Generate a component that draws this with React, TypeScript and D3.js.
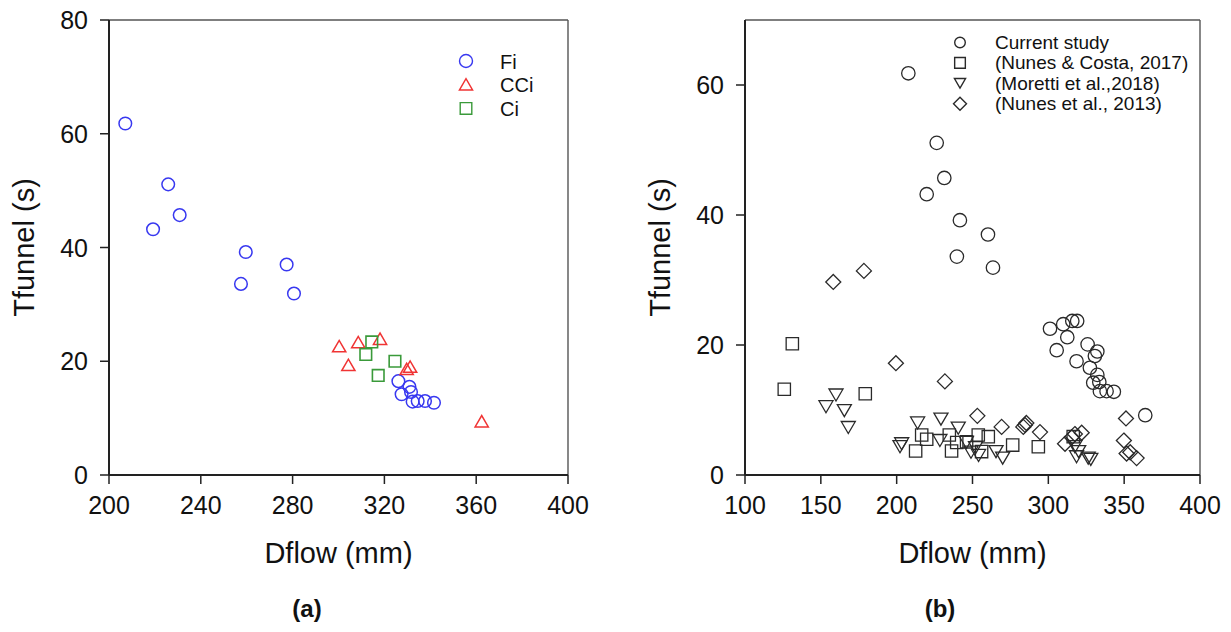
import React from "react";
import * as d3 from "d3";

// ---------- data (a) ----------
const fi: [number, number][] = [
  [207.1, 61.8], [225.8, 51.1], [230.8, 45.7], [219.2, 43.2],
  [259.6, 39.2], [257.5, 33.6], [277.4, 37.0], [280.6, 31.9],
  [326.1, 16.5], [327.5, 14.2], [330.9, 15.5], [331.6, 14.6],
  [332.3, 12.9], [334.5, 13.0], [337.7, 13.0], [341.6, 12.7],
];
const cci: [number, number][] = [
  [300.3, 22.6], [308.6, 23.3], [318.1, 23.9], [304.3, 19.3],
  [329.7, 18.6], [331.2, 19.0], [362.4, 9.4],
];
const ci: [number, number][] = [
  [314.5, 23.4], [311.9, 21.2], [324.6, 20.0], [317.3, 17.5],
];

// ---------- data (b) ----------
const currentStudy: [number, number][] = [
  [207.7, 61.8], [226.4, 51.1], [231.4, 45.7], [219.8, 43.2],
  [241.7, 39.2], [239.7, 33.6], [260.2, 37.0], [263.5, 31.9],
  [301.1, 22.5], [309.8, 23.2], [315.8, 23.7], [319.0, 23.7],
  [312.5, 21.2], [305.5, 19.2], [325.9, 20.1], [332.3, 19.0],
  [330.7, 18.3], [318.6, 17.5], [327.4, 16.5], [332.3, 15.4],
  [329.6, 14.2], [333.6, 14.3], [334.0, 12.9], [338.4, 12.9],
  [343.2, 12.8], [363.9, 9.2],
];
const nunesCosta2017: [number, number][] = [
  [131.2, 20.2], [125.9, 13.2], [179.3, 12.5], [216.5, 6.15],
  [219.8, 5.5], [212.5, 3.7], [234.7, 6.15], [236.2, 3.7],
  [239.6, 5.0], [246.1, 5.1], [253.8, 6.15], [260.4, 5.9],
  [256.0, 3.6], [276.5, 4.6], [293.4, 4.35], [316.4, 5.9],
];
const moretti2018: [number, number][] = [
  [160.0, 12.3], [153.4, 10.5], [165.5, 9.9], [168.1, 7.3],
  [213.8, 8.0], [229.2, 8.6], [240.6, 7.2], [202.2, 4.35],
  [203.3, 4.8], [228.5, 5.3], [246.0, 5.0], [249.0, 3.5],
  [252.0, 4.2], [254.0, 3.0], [265.5, 3.6], [269.9, 2.6],
  [317.5, 4.35], [318.6, 2.8], [320.0, 3.6], [326.3, 2.6], [328.0, 2.4],
];
const nunes2013: [number, number][] = [
  [158.2, 29.7], [178.4, 31.4], [199.5, 17.2], [231.8, 14.4],
  [253.2, 9.1], [269.2, 7.4], [283.5, 7.4], [284.6, 7.7],
  [285.5, 8.0], [294.5, 6.6], [311.0, 4.8], [315.4, 5.8],
  [317.5, 6.3], [322.0, 6.5], [351.2, 8.7], [349.8, 5.3],
  [351.6, 3.3], [354.0, 3.5], [358.2, 2.6],
];

const xTicksA = [200, 240, 280, 320, 360, 400];
const yTicksA = [0, 20, 40, 60, 80];
const xTicksB = [100, 150, 200, 250, 300, 350, 400];
const yTicksB = [0, 20, 40, 60];

const legendA = ["Fi", "CCi", "Ci"];
const legendB = [
  "Current study",
  "(Nunes & Costa, 2017)",
  "(Moretti et al.,2018)",
  "(Nunes et al., 2013)",
];

type Shape = "circle" | "up" | "square" | "down" | "diamond";

function shapePath(shape: Shape, s: number): string {
  switch (shape) {
    case "circle": {
      const p = d3.path();
      p.arc(0, 0, s, 0, Math.PI * 2);
      p.closePath();
      return p.toString();
    }
    case "up":
      return `M${-s * 1.05},${s * 0.85}L${s * 1.05},${s * 0.85}L0,${-s * 0.95}Z`;
    case "down":
      return `M${-s * 1.05},${-s * 0.9}L${s * 1.05},${-s * 0.9}L0,${s * 0.9}Z`;
    case "square":
      return `M${-s * 0.92},${-s * 0.92}H${s * 0.92}V${s * 0.92}H${-s * 0.92}Z`;
    case "diamond":
      return `M0,${-s * 1.12}L${s * 1.12},0L0,${s * 1.12}L${-s * 1.12},0Z`;
  }
}

const FONT = "'Liberation Sans', Arial, sans-serif";

interface PanelProps {
  x0: number; x1: number; y0: number; y1: number;
  xDomain: [number, number]; yDomain: [number, number];
  xTicks: number[]; yTicks: number[];
  series: { data: [number, number][]; shape: Shape; color: string; size: number; sw: number }[];
  legend: { label: string; shape: Shape; color: string; size: number }[];
  legendX: number; legendTextX: number; legendY: number; legendStep: number; legendFont: number; legendDy: number;
  panelLabel: string; panelLabelX: number;
}

function Panel(p: PanelProps) {
  const x = d3.scaleLinear().domain(p.xDomain).range([p.x0, p.x1]);
  const y = d3.scaleLinear().domain(p.yDomain).range([p.y0, p.y1]);
  const tickLen = 9;
  const axisColor = "#222";
  return (
    <g>
      {/* frame */}
      <line x1={p.x0} x2={p.x1} y1={p.y1} y2={p.y1} stroke="#555" strokeWidth={1.4} />
      <line x1={p.x1} x2={p.x1} y1={p.y1} y2={p.y0} stroke="#555" strokeWidth={1.4} />
      <line x1={p.x0} x2={p.x1} y1={p.y0} y2={p.y0} stroke={axisColor} strokeWidth={2} />
      <line x1={p.x0} x2={p.x0} y1={p.y1} y2={p.y0} stroke={axisColor} strokeWidth={2} />
      {p.xTicks.map((t) => (
        <g key={"xt" + t}>
          <line x1={x(t)} x2={x(t)} y1={p.y0} y2={p.y0 + tickLen} stroke={axisColor} strokeWidth={1.5} />
          <text x={x(t)} y={p.y0 + 39} textAnchor="middle" fontSize={25} fontFamily={FONT} fill="#111">{t}</text>
        </g>
      ))}
      {p.yTicks.map((t) => (
        <g key={"yt" + t}>
          <line x1={p.x0 - tickLen} x2={p.x0} y1={y(t)} y2={y(t)} stroke={axisColor} strokeWidth={1.5} />
          <text x={p.x0 - 21} y={y(t) + 9} textAnchor="end" fontSize={25} fontFamily={FONT} fill="#111">{t}</text>
        </g>
      ))}
      <text x={(p.x0 + p.x1) / 2} y={p.y0 + 88} textAnchor="middle" fontSize={29} fontFamily={FONT} fill="#111">Dflow (mm)</text>
      <text transform={`translate(${p.x0 - 75},${(p.y0 + p.y1) / 2}) rotate(-90)`} textAnchor="middle" fontSize={29} fontFamily={FONT} fill="#111">Tfunnel (s)</text>
      <text x={p.panelLabelX} y={617} textAnchor="middle" fontSize={24} fontWeight="bold" fontFamily={FONT} fill="#111">{p.panelLabel}</text>
      {/* points */}
      {p.series.map((s, si) => (
        <g key={"s" + si}>
          {s.data.map((d, i) => (
            <path key={i} d={shapePath(s.shape, s.size)} transform={`translate(${x(d[0])},${y(d[1])})`} fill="none" stroke={s.color} strokeWidth={s.sw} />
          ))}
        </g>
      ))}
      {/* legend */}
      {p.legend.map((l, i) => (
        <g key={"l" + i}>
          <path d={shapePath(l.shape, l.size)} transform={`translate(${p.legendX},${p.legendY + i * p.legendStep})`} fill="none" stroke={l.color} strokeWidth={1.4} />
          <text x={p.legendTextX} y={p.legendY + i * p.legendStep + p.legendDy} fontSize={p.legendFont} fontFamily={FONT} fill="#111">{l.label}</text>
        </g>
      ))}
    </g>
  );
}

export default function App() {
  const blue = "#3838f0";
  const red = "#f03434";
  const green = "#3a9a3a";
  const black = "#2a2a2a";
  return (
    <svg width={1231} height={632} style={{ position: "absolute", left: 0, top: 0, background: "#fff" }}>
      <rect width={1231} height={632} fill="#fff" />
      <Panel
        x0={109} x1={568} y0={475} y1={20}
        xDomain={[200, 400]} yDomain={[0, 80]}
        xTicks={xTicksA} yTicks={yTicksA}
        series={[
          { data: fi, shape: "circle", color: blue, size: 6.3, sw: 1.5 },
          { data: cci, shape: "up", color: red, size: 6.3, sw: 1.5 },
          { data: ci, shape: "square", color: green, size: 6.3, sw: 1.6 },
        ]}
        legend={[
          { label: legendA[0], shape: "circle", color: blue, size: 6.5 },
          { label: legendA[1], shape: "up", color: red, size: 6.3 },
          { label: legendA[2], shape: "square", color: green, size: 6.3 },
        ]}
        legendX={466} legendTextX={500} legendY={61} legendStep={23.7} legendFont={20} legendDy={7.5}
        panelLabel="(a)" panelLabelX={307}
      />
      <Panel
        x0={745} x1={1200} y0={475} y1={20}
        xDomain={[100, 400]} yDomain={[0, 70]}
        xTicks={xTicksB} yTicks={yTicksB}
        series={[
          { data: currentStudy, shape: "circle", color: black, size: 6.7, sw: 1.3 },
          { data: nunesCosta2017, shape: "square", color: black, size: 6.7, sw: 1.3 },
          { data: moretti2018, shape: "down", color: black, size: 6.7, sw: 1.3 },
          { data: nunes2013, shape: "diamond", color: black, size: 6.7, sw: 1.3 },
        ]}
        legend={[
          { label: legendB[0], shape: "circle", color: black, size: 5.3 },
          { label: legendB[1], shape: "square", color: black, size: 5.8 },
          { label: legendB[2], shape: "down", color: black, size: 5.3 },
          { label: legendB[3], shape: "diamond", color: black, size: 5.8 },
        ]}
        legendX={960} legendTextX={995} legendY={42.5} legendStep={20.4} legendFont={19} legendDy={6.5}
        panelLabel="(b)" panelLabelX={940}
      />
    </svg>
  );
}
